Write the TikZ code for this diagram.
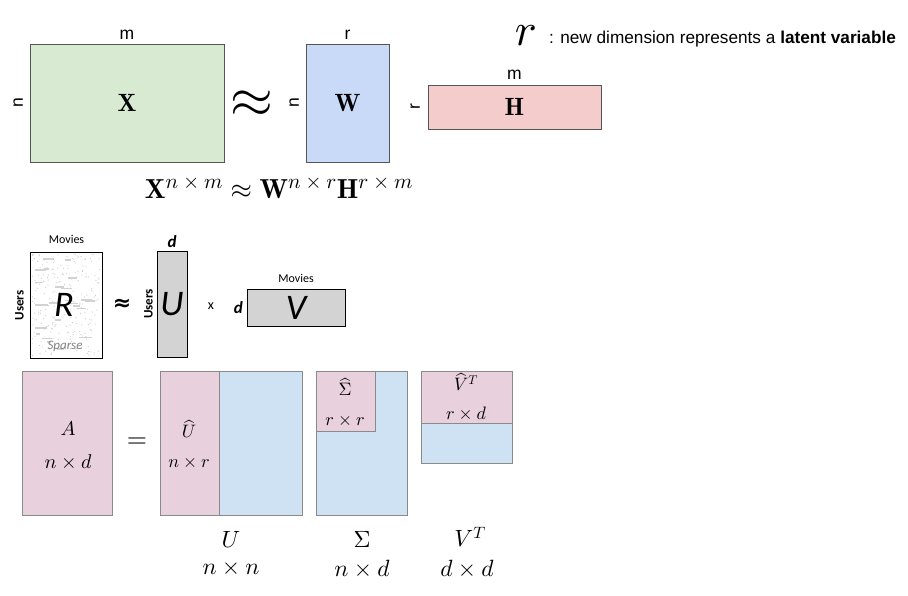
\documentclass[tikz,border=0pt]{standalone}
\usepackage{amsmath}
\usepackage{fontspec}
\DeclareFontShape{OML}{cmm}{m}{it}{<->cmmi10}{}
\DeclareFontShape{OML}{cmm}{b}{it}{<->cmmib10}{}
\DeclareFontShape{OMS}{cmsy}{m}{n}{<->cmsy10}{}
\DeclareFontShape{OMS}{cmsy}{b}{n}{<->cmbsy10}{}
\DeclareFontShape{OT1}{cmr}{m}{n}{<->cmr10}{}
\DeclareFontShape{OT1}{cmr}{bx}{n}{<->cmbx10}{}
\DeclareFontShape{OMX}{cmex}{m}{n}{<->cmex10}{}
\newfontfamily\arial{Liberation Sans}
\newfontfamily\calibri{Carlito}
\newfontfamily\dejavu{DejaVu Sans}
\definecolor{xgreen}{HTML}{D9EAD3}
\definecolor{wblue}{HTML}{C9DAF8}
\definecolor{hpink}{HTML}{F4CCCC}
\definecolor{mgray}{HTML}{D3D3D3}
\definecolor{spink}{HTML}{E8D0DC}
\definecolor{sblue}{HTML}{CFE2F3}
\definecolor{bord}{HTML}{555555}
\definecolor{sbord}{HTML}{8A8A8A}
\newcommand{\supsz}[1]{\mbox{\fontsize{21}{21}\selectfont$#1$}}
\tikzset{
  mbox/.style={draw=bord, line width=0.9pt, anchor=north west, inner sep=0pt, outer sep=0pt},
  gbox/.style={draw=black, line width=1pt, anchor=north west, inner sep=0pt, outer sep=0pt, fill=mgray},
  sbox/.style={draw=sbord, line width=0.9pt, anchor=north west, inner sep=0pt, outer sep=0pt},
  dimlab/.style={font=\arial\fontsize{17.5}{19}\selectfont, inner sep=0pt},
  cal/.style={font=\calibri\fontsize{12}{14}\selectfont, inner sep=0pt},
  usr/.style={font=\calibri\bfseries\fontsize{13}{15}\selectfont, inner sep=0pt, rotate=90, anchor=south},
  calbig/.style={font=\calibri\itshape\fontsize{36}{38}\selectfont, inner sep=0pt},
  cald/.style={font=\calibri\bfseries\itshape\fontsize{17}{19}\selectfont, inner sep=0pt},
  big/.style={font=\fontsize{25}{27}\selectfont, inner sep=0pt},
  lab/.style={font=\fontsize{23.5}{26}\selectfont, inner sep=0pt},
  small/.style={font=\fontsize{20}{22}\selectfont, inner sep=0pt},
  tiny/.style={font=\fontsize{18}{20}\selectfont, inner sep=0pt},
}
\begin{document}
\begin{tikzpicture}[x=1pt,y=-1pt]
\useasboundingbox (0,0) rectangle (908,595);
% ---------- top ----------
\node[mbox, fill=xgreen, minimum width=194pt, minimum height=118pt] (X) at (30,44) {};
\node[big] (Xl) at (X.center) {$\mathbf{X}$};
\node[dimlab, anchor=south] (Xm) at ([yshift=4pt]X.north) {m};
\node[dimlab, rotate=90, anchor=south] (Xn) at ([xshift=-7pt]X.west) {n};
\node[inner sep=0pt, font=\fontsize{55}{60}\selectfont] (approx1) at (252,104) {$\approx$};
\node[mbox, fill=wblue, minimum width=83pt, minimum height=118pt] (W) at (306,44) {};
\node[big] (Wl) at (W.center) {$\mathbf{W}$};
\node[dimlab, anchor=south] (Wr) at ([yshift=4pt]W.north) {r};
\node[dimlab, rotate=90, anchor=south] (Wn) at ([xshift=-7pt]W.west) {n};
\node[mbox, fill=hpink, minimum width=173pt, minimum height=44pt] (H) at (428,85) {};
\node[big] (Hl) at (H.center) {$\mathbf{H}$};
\node[dimlab, anchor=south] (Hm) at ([yshift=5pt]H.north) {m};
\node[dimlab, rotate=90, anchor=south] (Hr) at ([xshift=-8pt]H.west) {r};
\node[inner sep=0pt, font=\fontsize{46}{48}\selectfont] (rsym) at (526,36) {$r$};
\node[inner sep=0pt, anchor=west, font=\arial\fontsize{17.2}{19}\selectfont] (note) at (549,39) {: new dimension represents a \textbf{latent variable}};
\node[inner sep=0pt, anchor=base, font=\fontsize{27.5}{30}\selectfont] (formula) at (279,198) {$\mathbf{X}^{\supsz{n\times m}}\approx\mathbf{W}^{\supsz{n\times r}}\mathbf{H}^{\supsz{r\times m}}$};
% ---------- middle ----------
\node[draw=black, line width=1pt, anchor=north west, inner sep=0pt, minimum width=72pt, minimum height=106pt, fill=white] (R) at (30,252) {};
\begin{scope}
\clip (32,254) rectangle (100,356);
\pgfmathsetseed{11}
\foreach \i in {1,...,240}{
  \pgfmathsetmacro\px{32+68*rnd}
  \pgfmathsetmacro\py{254+102*rnd}
  \fill[gray!40] (\px,\py) circle (0.6);
}
\foreach \i in {1,...,24}{
  \pgfmathsetmacro\px{34+56*rnd}
  \pgfmathsetmacro\py{258+92*rnd}
  \pgfmathsetmacro\pl{4+10*rnd}
  \draw[gray!35, line width=1.6pt] (\px,\py) -- ++(\pl,0);
}
\end{scope}
\node[calbig] (Rl) at (64,305) {R};
\node[inner sep=0pt, text=gray, font=\calibri\itshape\fontsize{13}{15}\selectfont] (Rs) at (65,346) {Sparse};
\node[cal, anchor=south] (Rm) at ([yshift=8pt]R.north) {Movies};
\node[usr] (Ru) at ([xshift=-6pt]R.west) {Users};
\node[inner sep=0pt, font=\dejavu\bfseries\fontsize{22}{24}\selectfont] (approx2) at (122,305) {≈};
\node[gbox, minimum width=30pt, minimum height=106pt] (U) at (157,251) {};
\node[calbig] (Ul) at (U.center) {U};
\node[cald, anchor=south] (Ud) at ([yshift=3pt]U.north) {d};
\node[usr] (Uu) at ([xshift=-4pt]U.west) {Users};
\node[inner sep=0pt, font=\calibri\fontsize{14}{16}\selectfont] (times) at (211,306) {x};
\node[gbox, minimum width=98pt, minimum height=37pt] (V) at (247,289) {};
\node[calbig] (Vl) at (V.center) {V};
\node[cald, anchor=east] (Vd) at ([xshift=-4pt]V.west) {d};
\node[cal, anchor=south] (Vm) at ([yshift=6pt]V.north) {Movies};
% ---------- bottom ----------
\node[sbox, fill=spink, minimum width=90pt, minimum height=144pt] (A) at (22,371) {};
\node[small] (Al) at (68,429) {$A$};
\node[small] (Ad) at (68,462) {$n\times d$};
\node[inner sep=0pt, font=\fontsize{26}{28}\selectfont] (eq) at (137,443) {$=$};
\node[sbox, fill=sblue, minimum width=142pt, minimum height=144pt] (Ub) at (160,371) {};
\node[sbox, fill=spink, minimum width=59pt, minimum height=144pt] (Uh) at (160,371) {};
\node[tiny] (Uhl) at (189,429) {$\widehat{U}$};
\node[tiny] (Uhd) at (189,463) {$n\times r$};
\node[sbox, fill=sblue, minimum width=91pt, minimum height=144pt] (Sb) at (316,371) {};
\node[sbox, fill=spink, minimum width=59pt, minimum height=60pt] (Sh) at (316,371) {};
\node[tiny] (Shl) at (345,387) {$\widehat{\Sigma}$};
\node[tiny] (Shd) at (345,421) {$r\times r$};
\node[sbox, fill=sblue, minimum width=91pt, minimum height=92pt] (Vb) at (421,371) {};
\node[sbox, fill=spink, minimum width=91pt, minimum height=52pt] (Vh) at (421,371) {};
\node[tiny] (Vhl) at (466,382) {$\widehat{V}^T$};
\node[tiny] (Vhd) at (466,414) {$r\times d$};
\node[lab] (Ulab) at (231,539) {$U$};
\node[lab] (Udim) at (231,569) {$n\times n$};
\node[lab] (Slab) at (362,539) {$\Sigma$};
\node[lab] (Sdim) at (362,569) {$n\times d$};
\node[lab] (Vlab) at (470,537) {$V^T$};
\node[lab] (Vdim) at (467,569) {$d\times d$};
\end{tikzpicture}
\end{document}
